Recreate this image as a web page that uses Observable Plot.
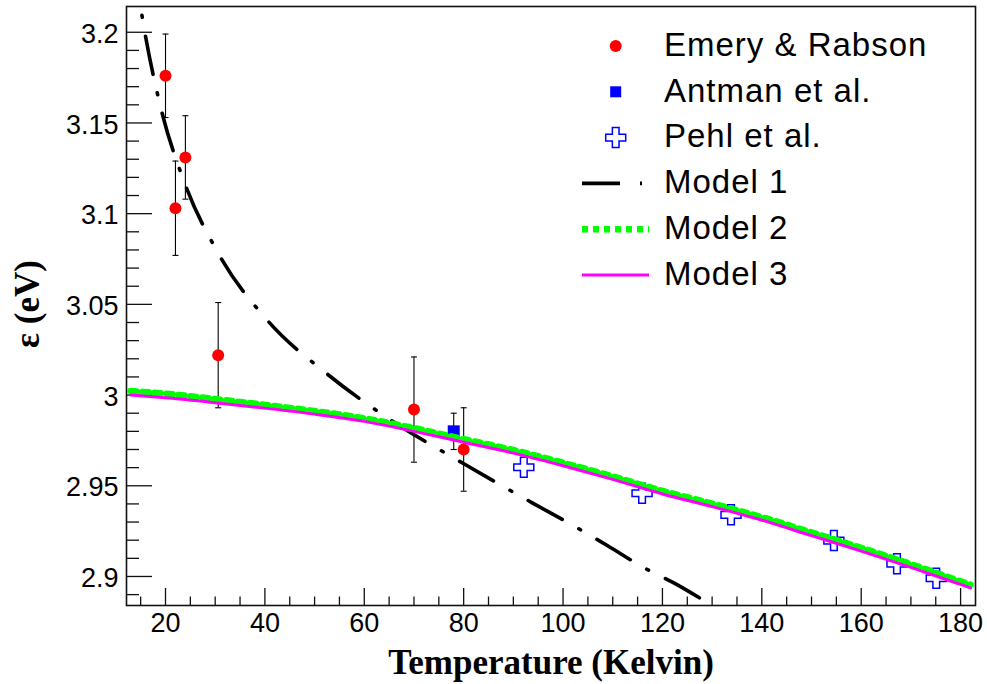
<!DOCTYPE html>
<html><head><meta charset="utf-8">
<script src="https://cdn.jsdelivr.net/npm/d3@7"></script>
<script src="https://cdn.jsdelivr.net/npm/@observablehq/plot@0.6"></script>
<style>body{margin:0;background:#fff}</style>
</head><body><div id="chart"></div>
<script>
// ---- data ----
const emeryT   = [20, 22, 24, 30.6, 70, 80];
const emeryE   = [3.176, 3.103, 3.131, 3.022, 2.992, 2.970];
const emeryErr = [0.023, 0.026, 0.023, 0.029, 0.029, 0.023];

const antmanT   = [78];
const antmanE   = [2.980];
const antmanErr = [0.010];

const pehlT = [92.1, 115.9, 133.8, 154.5, 167.2, 175.1];
const pehlE = [2.9602, 2.9459, 2.9340, 2.9198, 2.9070, 2.8990];

const model1T = [13.5, 15.6, 18.9, 23.8, 30.8, 40.5, 52.5, 64.9, 79.6, 93.8, 102.0, 108.9, 116.1, 123.2, 128.9, 131.5];
const model1E = [3.241, 3.2037, 3.160, 3.1173, 3.0773, 3.0412, 3.0117, 2.9870, 2.9628, 2.9406, 2.9281, 2.9171, 2.9051, 2.8951, 2.8858, 2.8815];

const modelT  = [13, 20, 30, 40, 50, 60, 70, 80, 90, 100, 110, 120, 130, 140, 150, 160, 170, 180, 182];
const model2E = [3.0022, 3.0008, 2.9978, 2.9946, 2.9912, 2.9872, 2.9818, 2.9757, 2.9697, 2.9627, 2.9552, 2.9472, 2.9402, 2.9327, 2.9243, 2.9158, 2.9068, 2.8973, 2.8955];
const model3E = [3.0000, 2.9985, 2.9958, 2.9928, 2.9895, 2.9855, 2.9800, 2.9740, 2.9680, 2.9610, 2.9535, 2.9455, 2.9385, 2.9310, 2.9225, 2.9140, 2.9050, 2.8956, 2.8937];

const xTicks = [20, 40, 60, 80, 100, 120, 140, 160, 180];
const xTickLabels = ["20", "40", "60", "80", "100", "120", "140", "160", "180"];
const yTicks = [2.9, 2.95, 3.0, 3.05, 3.1, 3.15, 3.2];
const yTickLabels = ["2.9", "2.95", "3", "3.05", "3.1", "3.15", "3.2"];

const legendLabels = ["Emery & Rabson", "Antman et al.", "Pehl et al.", "Model 1", "Model 2", "Model 3"];

// ---- tables ----
const emery = emeryT.map((t, i) => ({t, e: emeryE[i], lo: emeryE[i] - emeryErr[i], hi: emeryE[i] + emeryErr[i]}));
const antman = antmanT.map((t, i) => ({t, e: antmanE[i], lo: antmanE[i] - antmanErr[i], hi: antmanE[i] + antmanErr[i]}));
const bars = emery.concat(antman);
const pehl = pehlT.map((t, i) => ({t, e: pehlE[i]}));
const model1 = model1T.map((t, i) => ({t, e: model1E[i]}));
const model2 = modelT.map((t, i) => ({t, e: model2E[i]}));
const model3 = modelT.map((t, i) => ({t, e: model3E[i]}));

const xMinor = d3.range(15, 181, 5).filter(v => v % 20 !== 0);
const yMinor = d3.range(289, 321, 1).map(v => v / 100).filter(v => Math.round(v * 100) % 5 !== 0);

// ---- symbols ----
const plusOutline = {draw(ctx, size) {
  const r = Math.sqrt(size / Math.PI), a = r / 3;
  ctx.moveTo(-a, -r); ctx.lineTo(a, -r); ctx.lineTo(a, -a); ctx.lineTo(r, -a);
  ctx.lineTo(r, a); ctx.lineTo(a, a); ctx.lineTo(a, r); ctx.lineTo(-a, r);
  ctx.lineTo(-a, a); ctx.lineTo(-r, a); ctx.lineTo(-r, -a); ctx.lineTo(-a, -a); ctx.closePath();
}};
const hbar = {draw(ctx, size) {
  const r = Math.sqrt(size / Math.PI);
  ctx.moveTo(-r, 0); ctx.lineTo(r, 0);
}};
const sq = {draw(ctx, size) {
  const r = Math.sqrt(size / Math.PI);
  ctx.rect(-r, -r, 2 * r, 2 * r);
}};

const W = 987, H = 684, mL = 126, mR = 12, mT = 6, mB = 79;
const fw = W - mL - mR, fh = H - mT - mB;
const m1Dash = "39,19,2,19";
const serif = "'Liberation Serif', 'Times New Roman', serif";
const sans = "'Liberation Sans', Arial, Helvetica, sans-serif";

const svg = Plot.plot({
  width: W, height: H,
  marginLeft: mL, marginRight: mR, marginTop: mT, marginBottom: mB,
  style: {fontFamily: sans, background: "white", color: "black"},
  x: {domain: [12.15, 183], axis: null},
  y: {domain: [2.884, 3.2142], axis: null},
  marks: [
    // ticks (inside frame, ROOT style)
    Plot.ruleX(xTicks, {x: d => d, insetTop: fh - 17, stroke: "#111", strokeWidth: 1.3}),
    Plot.ruleX(xMinor, {x: d => d, insetTop: fh - 8.5, stroke: "#111", strokeWidth: 1.3}),
    Plot.ruleY(yTicks, {y: d => d, insetRight: fw - 26, stroke: "#111", strokeWidth: 1.3}),
    Plot.ruleY(yMinor, {y: d => d, insetRight: fw - 13, stroke: "#111", strokeWidth: 1.3}),
    // tick labels
    Plot.text(xTicks, {x: d => d, text: (d, i) => xTickLabels[i], frameAnchor: "bottom", dy: 18, lineAnchor: "middle", fontSize: 27, fill: "black"}),
    Plot.text(yTicks, {y: d => d, text: (d, i) => yTickLabels[i], frameAnchor: "left", dx: -8, dy: 2, textAnchor: "end", lineAnchor: "middle", fontSize: 27, fill: "black"}),
    // axis titles
    Plot.text(["Temperature (Kelvin)"], {text: d => d, frameAnchor: "bottom", dy: 57, textAnchor: "middle", lineAnchor: "middle", fontSize: 35, fontWeight: "bold", fontFamily: serif, fill: "black"}),
    Plot.text(["ε (eV)"], {text: d => d, frameAnchor: "left", dx: -99, dy: -2, rotate: -90, textAnchor: "middle", lineAnchor: "middle", fontSize: 35, fontWeight: "bold", fontFamily: serif, fill: "black"}),
    // error bars
    Plot.ruleX(bars, {x: "t", y1: "lo", y2: "hi", stroke: "black", strokeWidth: 1.1}),
    Plot.dot(bars, {x: "t", y: "lo", symbol: hbar, r: 3, stroke: "black", strokeWidth: 1.1, fill: "none"}),
    Plot.dot(bars, {x: "t", y: "hi", symbol: hbar, r: 3, stroke: "black", strokeWidth: 1.1, fill: "none"}),
    // markers
    Plot.dot(emery, {x: "t", y: "e", r: 6, fill: "#ff0000", stroke: "none"}),
    Plot.dot(antman, {x: "t", y: "e", symbol: sq, r: 6, fill: "#0000ff", stroke: "none"}),
    Plot.dot(pehl, {x: "t", y: "e", symbol: plusOutline, r: 10, fill: "none", stroke: "#0000ff", strokeWidth: 1.5}),
    // models
    Plot.line(model1, {x: "t", y: "e", curve: "monotone-x", stroke: "black", strokeWidth: 3.6, strokeDasharray: m1Dash, clip: true}),
    Plot.line(model2, {x: "t", y: "e", curve: "monotone-x", stroke: "#00ff00", strokeWidth: 6.5, strokeDasharray: "6,6", clip: true}),
    Plot.line(model3, {x: "t", y: "e", curve: "monotone-x", stroke: "#ff00ff", strokeWidth: 3, clip: true}),
    Plot.frame({stroke: "#111", strokeWidth: 1.6})
  ]
});
document.getElementById("chart").appendChild(svg);

// ---- legend ----
const g = d3.select(svg).append("g");
const rowBase = 55.7, rowStep = 45.8, symX = 615.7, textX = 664;
legendLabels.forEach((lab, i) => {
  const base = rowBase + i * rowStep, cy = base - 9.7;
  g.append("text").attr("x", textX).attr("y", base).text(lab)
    .attr("text-anchor", "start")
    .attr("font-family", sans)
    .attr("font-size", 33).attr("letter-spacing", 1).attr("fill", "black");
  if (i === 0) g.append("circle").attr("cx", symX).attr("cy", cy).attr("r", 6).attr("fill", "#ff0000");
  if (i === 1) g.append("rect").attr("x", symX - 5.5).attr("y", cy - 5.5).attr("width", 11).attr("height", 11).attr("fill", "#0000ff");
  if (i === 2) { const p = d3.path(); plusOutline.draw(p, 10 * 10 * Math.PI);
    g.append("path").attr("d", p.toString()).attr("transform", `translate(${symX},${cy})`).attr("fill", "none").attr("stroke", "#0000ff").attr("stroke-width", 1.5); }
  if (i === 3) g.append("line").attr("x1", 582).attr("x2", 649).attr("y1", cy).attr("y2", cy).attr("stroke", "black").attr("stroke-width", 3.6).attr("stroke-dasharray", "38,20,2,19");
  if (i === 4) g.append("line").attr("x1", 582).attr("x2", 649).attr("y1", cy).attr("y2", cy).attr("stroke", "#00ff00").attr("stroke-width", 6.5).attr("stroke-dasharray", "6,5");
  if (i === 5) g.append("line").attr("x1", 582).attr("x2", 649).attr("y1", cy).attr("y2", cy).attr("stroke", "#ff00ff").attr("stroke-width", 3);
});
</script></body></html>
